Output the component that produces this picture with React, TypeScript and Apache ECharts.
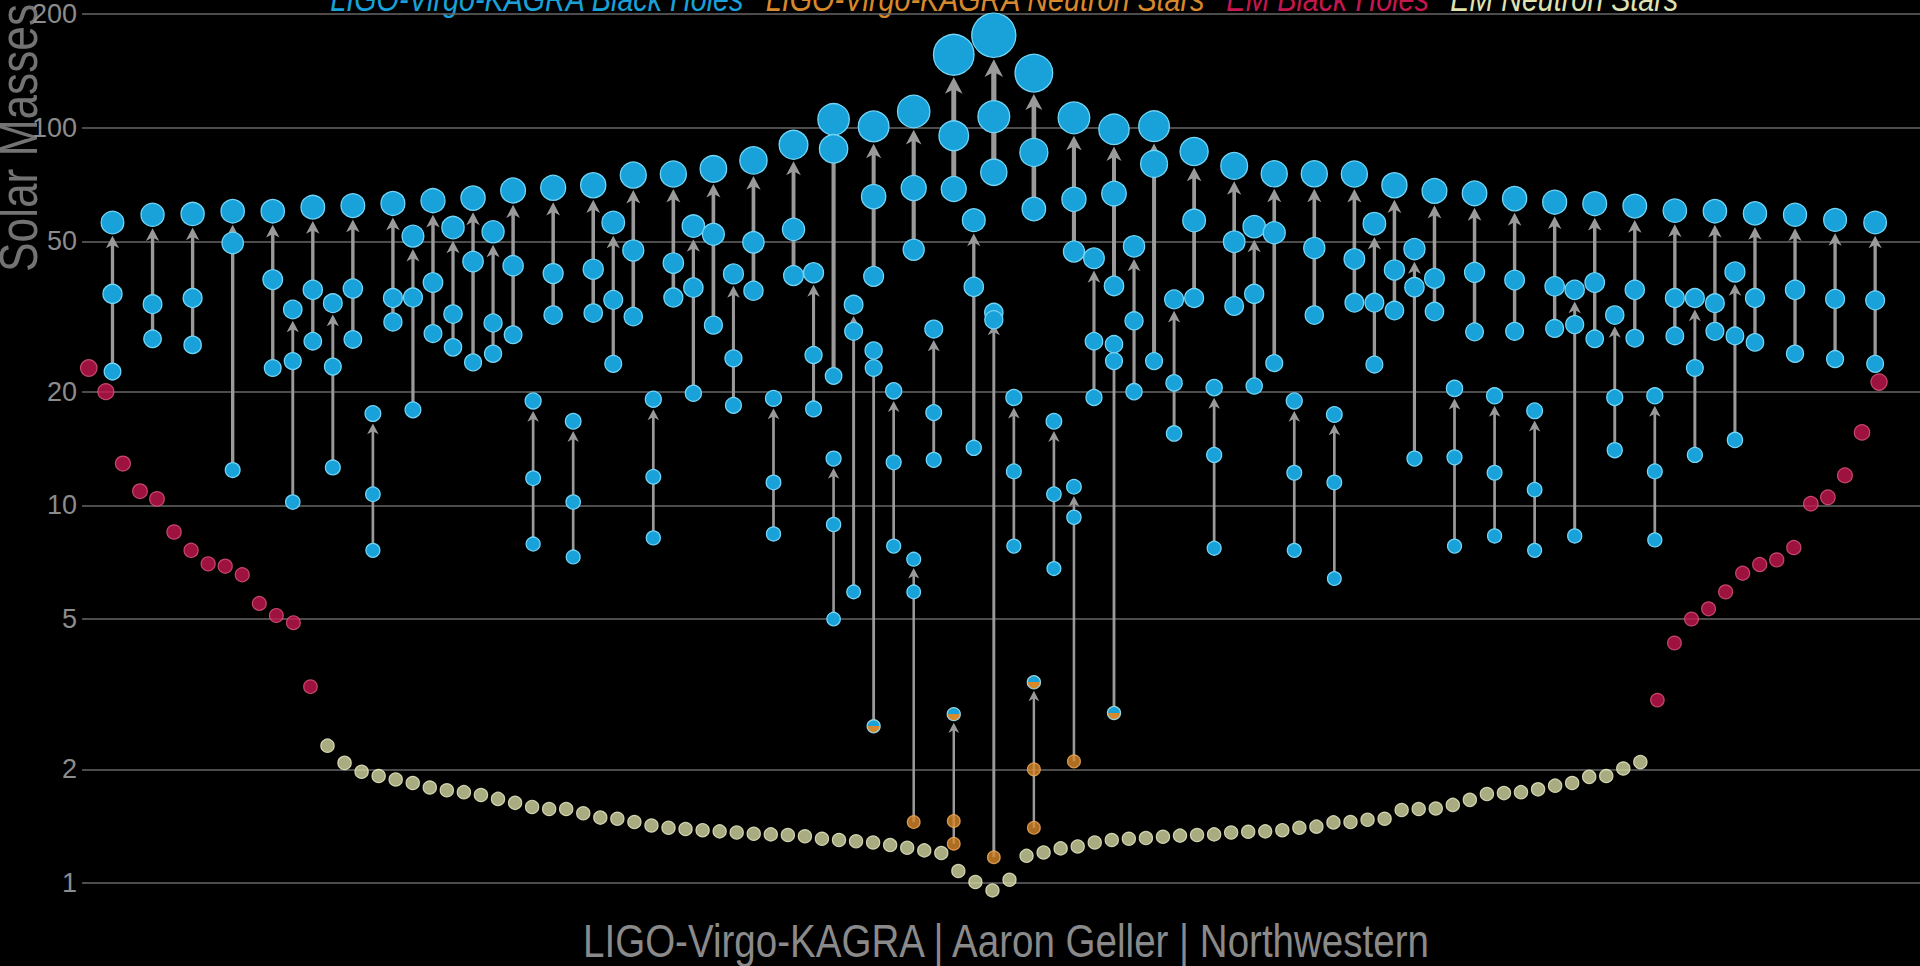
import React, { useEffect, useRef } from "react";
import * as echarts from "echarts";

// ---------- data ----------
const yTicks = [1, 2, 5, 10, 20, 50, 100, 200];

// LIGO-Virgo-KAGRA mergers: slot (position in the layout), final mass, primary, secondary
const gwSlot = [
  0, 2, 4, 6, 8, 9, 10, 11, 12, 13, 14, 15, 16, 17, 18, 19, 20, 21, 22, 23, 24, 25, 26, 27, 28, 29,
  30, 31, 32, 33, 34, 35, 36, 36, 37, 38, 38, 39, 40, 40, 41, 42, 42, 43, 44, 44, 45, 46, 46, 47,
  48, 48, 49, 50, 50, 51, 52, 53, 54, 55, 56, 57, 58, 59, 60, 61, 62, 63, 64, 65, 66, 67, 68, 69,
  70, 71, 72, 73, 74, 75, 76, 77, 78, 79, 80, 81, 82, 84, 86, 88,
];
const gwFinal = [
  56.1, 58.8, 59.1, 60.1, 60.1, 33.0, 61.6, 34.3, 62.2, 17.5, 63.0, 51.6, 64.1, 54.4, 65.1, 53.0,
  68.2, 18.9, 69.3, 16.7, 70.4, 56.1, 74.9, 19.1, 75.4, 54.9, 77.8, 41.0, 81.9, 19.2, 90.1, 41.3,
  105.2, 13.3, 34.0, 100.8, 25.7, 20.1, 110.4, 7.2, 29.3, 156, 2.8, 56.9, 175.7, 32.4, 19.3, 139.5,
  3.4, 16.7, 106.2, 11.2, 45.1, 99.0, 26.7, 48.5, 100.9, 35.1, 86.5, 20.5, 79.2, 54.7, 75.5, 18.9,
  75.5, 17.4, 75.4, 55.7, 70.4, 47.7, 68.0, 20.4, 67.0, 19.5, 64.9, 17.8, 63.5, 37.2, 62.9, 31.9,
  62.0, 19.5, 60.3, 35.4, 60.1, 41.5, 59.3, 58.8, 57.0, 56.1,
];
const gwMass1 = [
  36.3, 34.1, 35.4, 49.5, 39.6, 24.1, 37.2, 23.3, 37.5, 10.7, 35.4, 35.5, 38.9, 32.1, 44.2, 30.4,
  43.1, 11.8, 41.1, 10.2, 42.2, 35.0, 47.3, 11.9, 43.8, 37.7, 52.2, 24.5, 49.7, 11.5, 53.8, 25.0,
  87.9, 8.9, 28.9, 65.7, 23.1, 13.0, 69.2, 5.9, 17.6, 95.2, 1.46, 37.9, 107, 31.0, 12.3, 86,
  2.0, 10.7, 64.6, 9.3, 27.2, 66.9, 24.1, 30.8, 80.2, 21.1, 56.8, 13.6, 49.9, 36.3, 52.7, 12.2,
  48.0, 11.5, 44.9, 34.4, 42.0, 37.8, 39.9, 13.4, 41.4, 12.2, 39.5, 11.0, 38.0, 30.1, 38.9, 19.3,
  37.2, 12.3, 35.4, 23.1, 34.3, 28.1, 35.4, 37.2, 35.2, 34.9,
];
const gwMass2 = [
  22.6, 27.6, 26.6, 12.4, 23.1, 10.2, 27.2, 12.6, 27.5, 7.6, 30.6, 17.9, 28.5, 26.2, 23.9, 25.2,
  28.3, 7.9, 31.9, 7.3, 32.3, 23.7, 31.6, 8.2, 35.5, 19.8, 30.0, 18.4, 37.0, 8.4, 40.6, 18.0,
  22.0, 5.0, 5.9, 40.4, 2.6, 7.8, 47.5, 1.45, 13.2, 68.8, 1.27, 14.2, 76.2, 1.17, 7.8, 60.9,
  1.4, 6.8, 47.0, 2.1, 19.3, 38.1, 2.82, 20.0, 24.1, 15.5, 35.4, 7.7, 33.7, 20.7, 23.8, 7.6,
  31.9, 6.4, 34.4, 23.6, 32.8, 13.3, 32.6, 7.8, 28.8, 8.3, 28.9, 7.6, 29.4, 8.3, 27.6, 14.0,
  27.7, 8.1, 28.1, 13.6, 28.9, 14.9, 27.0, 25.2, 24.4, 23.7,
];

// Electromagnetically observed objects, left to right
const emBlackHolesLeft = [23.1, 20.0, 12.9, 10.9, 10.4, 8.5, 7.6, 7.0, 6.9, 6.55, 5.5, 5.11, 4.89, 3.31];
const emNeutronStars = [
  2.31, 2.08, 1.97, 1.92, 1.88, 1.84, 1.79, 1.76, 1.74, 1.71, 1.67, 1.63, 1.59, 1.57, 1.57, 1.53,
  1.49, 1.48, 1.45, 1.42, 1.4, 1.39, 1.38, 1.37, 1.36, 1.35, 1.345, 1.34, 1.33, 1.31, 1.3, 1.29,
  1.28, 1.26, 1.24, 1.22, 1.2, 1.076, 1.006, 0.956, 1.02, 1.18, 1.205, 1.235, 1.25, 1.28, 1.3, 1.31,
  1.315, 1.326, 1.335, 1.34, 1.345, 1.36, 1.367, 1.37, 1.38, 1.4, 1.41, 1.447, 1.45, 1.47, 1.48,
  1.56, 1.57, 1.575, 1.61, 1.66, 1.72, 1.73, 1.74, 1.77, 1.81, 1.84, 1.91, 1.92, 2.01, 2.09,
];
const emBlackHolesRight = [3.05, 4.32, 5.0, 5.32, 5.9, 6.61, 6.97, 7.17, 7.73, 10.1, 10.5, 12.0, 15.6, 21.2];

const legendNames = [
  "LIGO-Virgo-KAGRA Black Holes",
  "LIGO-Virgo-KAGRA Neutron Stars",
  "EM Black Holes",
  "EM Neutron Stars",
];
const creditText = "LIGO-Virgo-KAGRA | Aaron Geller | Northwestern";
const yAxisTitle = "Solar Masses";

// ---------- layout & style ----------
const W = 1920;
const H = 966;
const GRID = { left: 82, right: 0, top: 14, bottom: 83 };
const PLOT_W = W - GRID.left - GRID.right;
const GW_FIRST_PX = 112.5;
const GW_STEP_PX = 20.03;
const EM_FIRST_PX = 88.8;
const EM_STEP_PX = 17.05;
const gwAxisMin = -(GW_FIRST_PX - GRID.left) / GW_STEP_PX;
const gwAxisMax = gwAxisMin + PLOT_W / GW_STEP_PX;
const emAxisMin = -(EM_FIRST_PX - GRID.left) / EM_STEP_PX;
const emAxisMax = emAxisMin + PLOT_W / EM_STEP_PX;

const BLUE = "#18a2d9";
const BLUE_EDGE = "#72d4f6";
const ORANGE = "#d8892c";
const ORANGE_EDGE = "#f2ae5e";
const RED = "#c4174f";
const RED_EDGE = "#e3597f";
const YELLOW = "#d2d7a0";
const YELLOW_EDGE = "#f0f2cc";
const ARROW = "#9a9a9a";
const GRIDLINE = "#666666";
const LABEL = "#8c8c8c";
const FONT = "'Liberation Sans', Arial, sans-serif";
const NARROW = 0.82;

const sizeOf = (m: number) => 12.5 + 0.18 * m;
const emSizeOf = (m: number) => 13 + 0.15 * m;

function kindOf(m: number): "ns" | "gap" | "bh" {
  if (m < 2.5) return "ns";
  if (m < 4) return "gap";
  return "bh";
}

export default function App() {
  const ref = useRef<HTMLDivElement>(null);

  useEffect(() => {
    if (!ref.current) return;
    const chart = echarts.init(ref.current, null, { renderer: "svg" });

    const gapColor = new echarts.graphic.LinearGradient(0, 0, 0, 1, [
      { offset: 0, color: BLUE },
      { offset: 0.5, color: BLUE },
      { offset: 0.5, color: ORANGE },
      { offset: 1, color: ORANGE },
    ]);

    const events = gwSlot.map((s, i) => [s, gwFinal[i], gwMass1[i], gwMass2[i]]);
    const bhData: any[] = [];
    const nsData: any[] = [];
    events.forEach((ev) => {
      [ev[1], ev[2], ev[3]].forEach((m) => {
        const k = kindOf(m);
        if (k === "ns") nsData.push([ev[0], m]);
        else if (k === "gap") bhData.push({ value: [ev[0], m], itemStyle: { color: gapColor, borderColor: "#9ad0d8" } });
        else bhData.push([ev[0], m]);
      });
    });

    const nL = emBlackHolesLeft.length;
    const nN = emNeutronStars.length;
    const emBHData = emBlackHolesLeft
      .map((m, i) => [i, m])
      .concat(emBlackHolesRight.map((m, j) => [nL + nN + j, m]));
    const emNSData = emNeutronStars.map((m, j) => [nL + j, m]);

    const symbolSize = (v: number[]) => sizeOf(v[1]);
    const emSymbolSize = (v: number[]) => emSizeOf(v[1]);

    const legendRich: any = {};
    const legendColors = [BLUE, ORANGE, RED, "#dfe2b2"];
    legendColors.forEach((c, i) => {
      legendRich["l" + i] = {
        fill: c,
        fontSize: 35,
        fontStyle: "italic",
        fontFamily: FONT,
      };
    });
    legendRich.gap = { width: 26, fontSize: 35 };
    const legendText = legendNames.map((n, i) => `{l${i}|${n}}`).join("{gap| }");

    const option: any = {
      animation: false,
      backgroundColor: "#000000",
      grid: { ...GRID, containLabel: false },
      xAxis: [
        { type: "value", min: gwAxisMin, max: gwAxisMax, show: false },
        { type: "value", min: emAxisMin, max: emAxisMax, show: false },
      ],
      yAxis: {
        type: "log",
        logBase: 10,
        min: 1,
        max: 200,
        axisLine: { show: false },
        axisTick: { show: false, customValues: yTicks },
        axisLabel: {
          customValues: yTicks,
          color: LABEL,
          fontSize: 27,
          fontFamily: FONT,
          margin: 5,
          formatter: (v: number) => String(Math.round(v)),
        },
        splitLine: { show: true, lineStyle: { color: GRIDLINE, width: 1.5 } },
      },
      series: [
        {
          type: "custom",
          name: "arrows",
          xAxisIndex: 0,
          yAxisIndex: 0,
          clip: false,
          z: 1,
          silent: true,
          encode: { x: 0, y: 1 },
          data: events,
          renderItem: (_params: any, api: any) => {
            const slot = api.value(0);
            const fin = api.value(1);
            const low = api.value(3);
            const top = api.coord([slot, fin]);
            const bot = api.coord([slot, low]);
            const r = sizeOf(fin) / 2;
            const lw = 2.4 + 0.016 * fin;
            const hw = 2.8 * lw + 4;
            const hl = hw * 0.95;
            const x = top[0];
            const tipY = top[1] + r + 2;
            return {
              type: "group",
              children: [
                {
                  type: "line",
                  shape: { x1: x, y1: bot[1], x2: x, y2: tipY + hl * 0.6 },
                  style: { stroke: ARROW, lineWidth: lw },
                },
                {
                  type: "polygon",
                  shape: {
                    points: [
                      [x, tipY],
                      [x - hw / 2, tipY + hl],
                      [x, tipY + hl * 0.72],
                      [x + hw / 2, tipY + hl],
                    ],
                  },
                  style: { fill: ARROW },
                },
              ],
            };
          },
        },
        {
          type: "scatter",
          name: legendNames[0],
          xAxisIndex: 0,
          clip: false,
          z: 2,
          symbolSize,
          itemStyle: { color: BLUE, borderColor: BLUE_EDGE, borderWidth: 1.3, opacity: 1 },
          data: bhData,
        },
        {
          type: "scatter",
          name: legendNames[1],
          xAxisIndex: 0,
          clip: false,
          z: 3,
          symbolSize,
          itemStyle: { color: ORANGE, borderColor: ORANGE_EDGE, borderWidth: 1.2 },
          data: nsData,
        },
        {
          type: "scatter",
          name: legendNames[2],
          xAxisIndex: 1,
          clip: false,
          z: 2,
          symbolSize: emSymbolSize,
          itemStyle: { color: RED, borderColor: RED_EDGE, borderWidth: 1.2 },
          data: emBHData,
        },
        {
          type: "scatter",
          name: legendNames[3],
          xAxisIndex: 1,
          clip: false,
          z: 2,
          symbolSize: emSymbolSize,
          itemStyle: { color: YELLOW, borderColor: YELLOW_EDGE, borderWidth: 1.2 },
          data: emNSData,
        },
      ],
      graphic: [
        {
          type: "text",
          x: 1004,
          y: -1,
          scaleX: NARROW,
          silent: true,
          style: {
            text: legendText,
            rich: legendRich,
            fontSize: 35,
            fontStyle: "italic",
            fontFamily: FONT,
            align: "center",
            textAlign: "center",
            verticalAlign: "middle",
            textVerticalAlign: "middle",
          },
        },
        {
          type: "text",
          x: 18,
          y: 272,
          rotation: Math.PI / 2,
          scaleX: NARROW,
          silent: true,
          style: {
            text: yAxisTitle,
            fill: "#737373",
            fontSize: 54,
            fontFamily: FONT,
            align: "left",
            textAlign: "left",
            verticalAlign: "middle",
            textVerticalAlign: "middle",
          },
        },
        {
          type: "text",
          x: 1006,
          y: 941,
          scaleX: NARROW,
          silent: true,
          style: {
            text: creditText,
            fill: "#8a8a8a",
            fontSize: 47,
            fontFamily: FONT,
            align: "center",
            textAlign: "center",
            verticalAlign: "middle",
            textVerticalAlign: "middle",
          },
        },
      ],
    };

    chart.setOption(option);
    return () => chart.dispose();
  }, []);

  return (
    <div
      ref={ref}
      style={{ position: "fixed", left: 0, top: 0, width: W, height: H, background: "#000" }}
    />
  );
}
